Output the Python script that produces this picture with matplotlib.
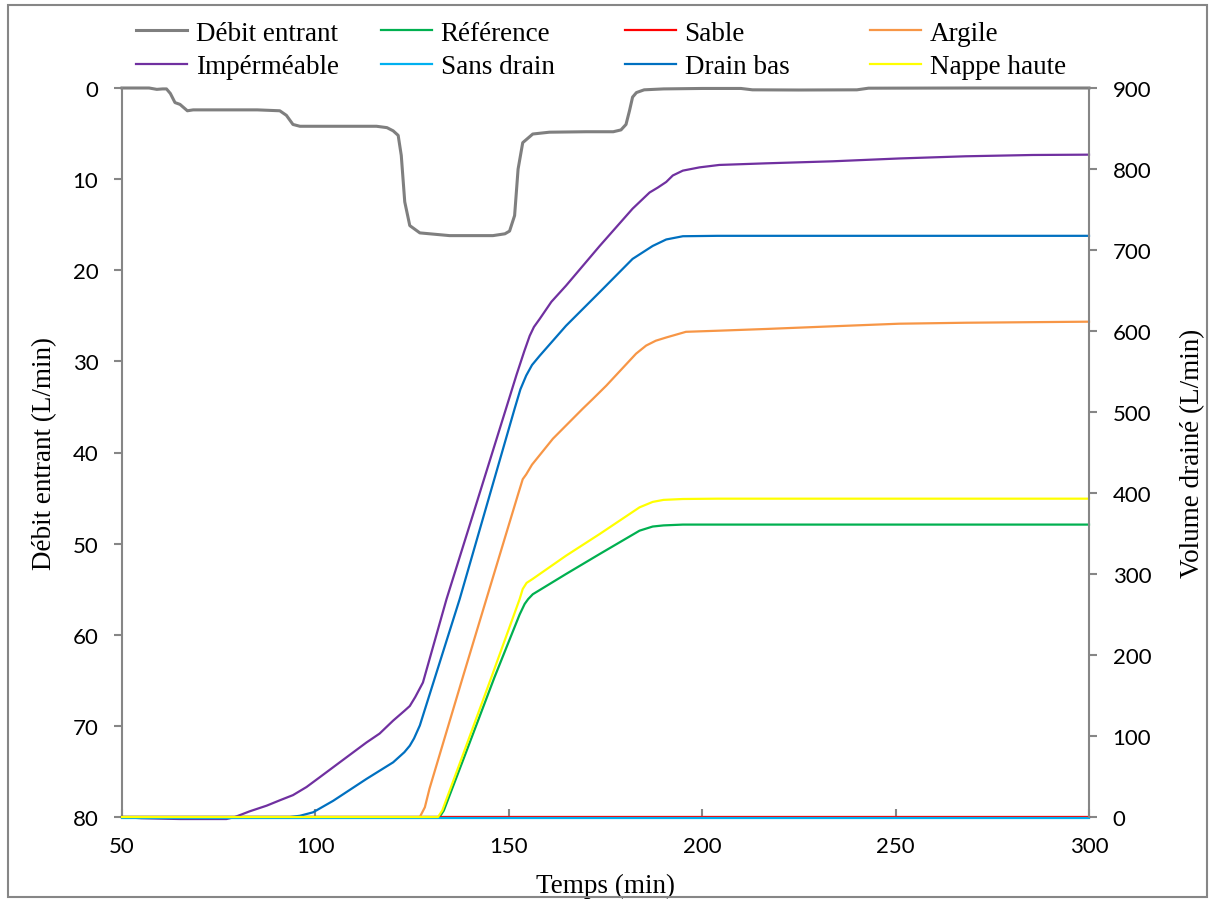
import matplotlib
matplotlib.use("Agg")
import matplotlib.pyplot as plt
from matplotlib.lines import Line2D
from matplotlib.patches import Rectangle

# DATA

# Inflow, left axis (inverted)
t_debit = [50, 57, 59, 60.5, 61.5, 62.5, 63.7, 65, 66.9, 68.4, 75, 85, 90.8, 92.5, 94.2, 96,
           105, 115.8, 118.5, 120.1, 121.4, 122.2, 123.1, 124.4, 127, 134.7, 145.9, 149,
           150.2, 151.5, 152.4, 153.6, 156.2, 160.5, 170, 177, 179, 180.3, 181.2, 182, 183,
           185, 190, 200, 210, 213, 225, 240, 243, 270, 300]
debit = [0, 0, 0.15, 0.1, 0.1, 0.6, 1.6, 1.8, 2.5, 2.4, 2.4, 2.4, 2.5, 3.0, 4.0, 4.2,
         4.2, 4.2, 4.35, 4.7, 5.2, 7.4, 12.5, 15.1, 15.9, 16.2, 16.2, 16.0,
         15.7, 14.0, 8.9, 6.0, 5.05, 4.85, 4.8, 4.8, 4.6, 4.0, 2.5, 1.0, 0.5,
         0.2, 0.1, 0.05, 0.05, 0.2, 0.22, 0.2, 0.02, 0.0, 0.0]

# Drained volume, right axis
t_ref = [50, 132.1, 133.2, 138, 146.3, 152.8, 154.1, 155, 156.2, 164.8, 173.5, 183.8, 187.2, 190, 195, 204, 300]
v_ref = [0, 0, 8, 68, 172.5, 250, 263, 269, 275, 300, 324.7, 353.5, 358.6, 360, 361, 361, 361]

t_sable = [50, 300]
v_sable = [0, 0]

t_argile = [50, 127, 128.3, 129.5, 138.1, 144.2, 152.5, 153.6, 154.5, 156, 161.4, 169.1, 171.7,
            175.2, 182.9, 185.5, 188, 190.7, 195.8, 204.4, 216.5, 233.7, 250.9, 268.1, 300]
v_argile = [0, 0, 12, 35, 172.5, 269, 400, 417, 423, 435, 467, 504, 516,
            532.5, 572, 582, 588, 592, 599, 600.4, 602.5, 605.8, 609, 610.2, 611.5]

t_imper = [50, 55, 65, 77, 79.2, 83, 87.4, 91, 94.2, 97.7, 101.1, 106.3, 113.2, 116.6, 120.1, 123,
           124.4, 125.8, 127.8, 133.9, 140, 149.4, 152, 154, 155.4, 156.5, 158, 161, 164.8, 173.5,
           182, 186.4, 188.5, 190.7, 192.4, 195, 199.3, 204.4, 216.5, 233.7, 250.9, 268.1, 285.4, 300]
v_imper = [0, -1.5, -2.5, -2.5, 0, 7, 14, 21, 27, 37, 49, 67.5, 92, 103, 119, 131,
           137, 148, 166, 269, 362, 506, 546, 575, 594, 605, 615, 636, 656, 705,
           751, 771, 777, 784, 792, 798, 802, 805, 807, 809.5, 813, 815.7, 817.3, 817.7]

t_sans = [50, 300]
v_sans = [-1.5, -1.5]

t_drain = [50, 93.4, 96, 99.4, 104.6, 113.2, 120.1, 123, 124.4, 125.5, 127, 137.3, 151.5, 153,
           154.5, 156, 158, 164.8, 173.5, 182, 187.2, 190.7, 195, 204, 300]
v_drain = [0, 0, 1.5, 5.8, 20, 47, 67.5, 80, 88, 97, 113, 269, 504, 528,
           545, 558, 569.5, 606.5, 648, 689, 705, 713, 717, 717.5, 717.5]

t_nappe = [50, 131.7, 132.8, 138, 145.5, 152.8, 153.6, 154.6, 156.2, 164.8, 173.5, 183.8, 187.2, 190, 195, 204, 300]
v_nappe = [0, 0, 8, 75, 172.5, 269, 281.5, 289, 294, 322.6, 349.4, 382.3, 389, 391.5, 392.6, 393, 393]

x_ticks = [50, 100, 150, 200, 250, 300]
left_ticks = [0, 10, 20, 30, 40, 50, 60, 70, 80]
right_ticks = [0, 100, 200, 300, 400, 500, 600, 700, 800, 900]

# STYLE

SERIF = "Liberation Serif"
SANS = "Lato"
AXIS_GREY = "#868686"

fig = plt.figure(figsize=(12.15, 9.04), dpi=100)
ax = fig.add_axes([122 / 1215, 1 - 818 / 904, (1089 - 122) / 1215, (818 - 89) / 904])
ax2 = ax.twinx()

# gray inflow on the primary axis
ax.plot(t_debit, debit, color="#7F7F7F", linewidth=2.2, solid_joinstyle="round", clip_on=False)
ax.set_xlim(50, 300)
ax.set_ylim(80, 0)

# drained volume series, drawn in Excel order
series = [
    (t_ref, v_ref, "#00B050", "Référence"),
    (t_sable, v_sable, "#FF0000", "Sable"),
    (t_argile, v_argile, "#F79646", "Argile"),
    (t_imper, v_imper, "#7030A0", "Impérméable"),
    (t_sans, v_sans, "#00B0F0", "Sans drain"),
    (t_drain, v_drain, "#0070C0", "Drain bas"),
    (t_nappe, v_nappe, "#FFFF00", "Nappe haute"),
]
for t, v, c, lab in series:
    ax2.plot(t, v, color=c, linewidth=1.6, clip_on=False)
ax2.set_ylim(0, 900)

# axes / spines
for a in (ax, ax2):
    a.spines["top"].set_visible(False)
    for s in ("left", "right", "bottom"):
        a.spines[s].set_color(AXIS_GREY)
        a.spines[s].set_linewidth(1.5)
    a.set_facecolor("none")
ax.spines["right"].set_visible(False)
ax2.spines["left"].set_visible(False)
ax2.spines["bottom"].set_visible(False)

ax.set_xticks(x_ticks)
ax.set_yticks(left_ticks)
ax2.set_yticks(right_ticks)
ax.tick_params(axis="x", direction="in", length=6, width=1.5, color=AXIS_GREY, pad=14)
ax.tick_params(axis="y", direction="out", length=6, width=1.5, color=AXIS_GREY, pad=11)
ax2.tick_params(axis="y", direction="out", length=6, width=1.5, color=AXIS_GREY, pad=11)
for lbl in ax.get_xticklabels() + ax.get_yticklabels() + ax2.get_yticklabels():
    lbl.set_fontfamily(SANS)
    lbl.set_fontsize(16)

ax.set_xlabel("Temps (min)", fontfamily=SERIF, fontsize=19.5, labelpad=12)
ax.set_ylabel("Débit entrant (L/min)", fontfamily=SERIF, fontsize=19.5, labelpad=11)
ax2.set_ylabel("Volume drainé (L/min)", fontfamily=SERIF, fontsize=19.5, rotation=90, labelpad=21)

# LEGEND: 4 equally spaced columns, 2 rows (Excel layout)
colors = {lab: c for _, _, c, lab in series}
colors["Débit entrant"] = "#7F7F7F"
columns = [["Débit entrant", "Impérméable"], ["Référence", "Sans drain"],
           ["Sable", "Drain bas"], ["Argile", "Nappe haute"]]
col_x = [117, 362, 606, 851]
for x0, labels in zip(col_x, columns):
    handles = [Line2D([], [], color=colors[l], linewidth=2.2 if l == "Débit entrant" else 1.6)
               for l in labels]
    fig.legend(handles, labels, loc="upper left", bbox_to_anchor=(x0 / 1215, 1 - 3 / 904),
               frameon=False, prop={"family": SERIF, "size": 19.5},
               handlelength=1.9, handletextpad=0.3, labelspacing=0.3, borderpad=0.2)

# chart area border
fig.patches.append(Rectangle((8 / 1215, 6 / 904), 1199 / 1215, 892 / 904, transform=fig.transFigure,
                             fill=False, edgecolor=AXIS_GREY, linewidth=1.5))

fig.savefig("out.png", dpi=100)
